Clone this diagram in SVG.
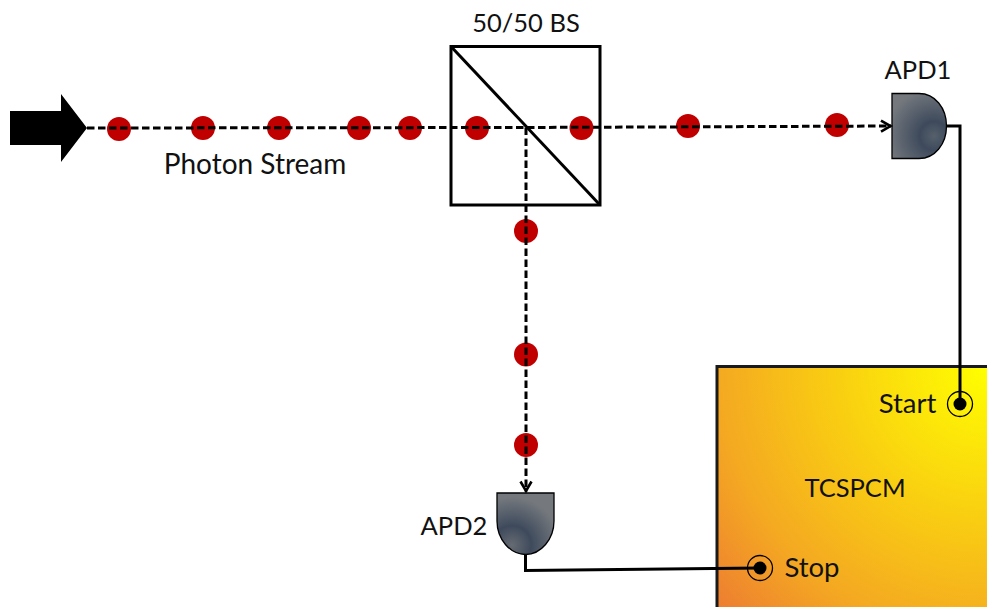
<svg xmlns="http://www.w3.org/2000/svg" width="987" height="607" viewBox="0 0 987 607">
<style>
text{font-family:"Lato","Open Sans","Liberation Sans",sans-serif;font-size:25.500px;fill:#111}
.big{font-size:27.500px}
.dot{fill:#c00000}
.dash{fill:none;stroke:#000;stroke-width:3;stroke-dasharray:7.500 3.500}
.wire{fill:none;stroke:#000;stroke-width:3}
.apd{stroke:#000;stroke-width:1.300}
.ring{fill:none;stroke:#000;stroke-width:1.300}
</style>
<defs>
<marker id="arr" markerUnits="userSpaceOnUse" markerWidth="16" markerHeight="16" refX="13" refY="7" orient="auto">
<path d="M3 1.500L12.500 7L3 12.500" fill="none" stroke="#000" stroke-width="2.600"/>
</marker>
<radialGradient id="gA" gradientUnits="userSpaceOnUse" cx="934" cy="136" r="48">
<stop offset="0" stop-color="#56606c"/><stop offset="0.3" stop-color="#3e4a5c"/><stop offset="1" stop-color="#75797e"/>
</radialGradient>
<radialGradient id="gB" gradientUnits="userSpaceOnUse" cx="512" cy="545" r="48">
<stop offset="0" stop-color="#666b72"/><stop offset="0.4" stop-color="#3e4a5c"/><stop offset="1" stop-color="#75797e"/>
</radialGradient>
<radialGradient id="gT" gradientUnits="userSpaceOnUse" cx="987" cy="366" r="362">
<stop offset="0" stop-color="#ffff00"/><stop offset="0.5" stop-color="#f8c515"/><stop offset="0.75" stop-color="#f4a822"/><stop offset="1" stop-color="#ed7d31"/>
</radialGradient>
</defs>
<g id="source"><polygon points="10,111 61,111 61,94 87,128 61,162 61,145 10,145" fill="#000"/></g>
<g id="photons">
<circle class="dot" cx="119" cy="129" r="12"/>
<circle class="dot" cx="203" cy="128" r="12"/>
<circle class="dot" cx="279" cy="128" r="12"/>
<circle class="dot" cx="359" cy="128" r="12"/>
<circle class="dot" cx="410" cy="128" r="12"/>
<circle class="dot" cx="477" cy="128" r="12"/>
<circle class="dot" cx="581.500" cy="128" r="12"/>
<circle class="dot" cx="688" cy="126" r="12"/>
<circle class="dot" cx="837" cy="125" r="12"/>
<circle class="dot" cx="526" cy="231" r="12"/>
<circle class="dot" cx="526" cy="354.500" r="12"/>
<circle class="dot" cx="526" cy="445" r="12"/>
</g>
<g id="tcspcm">
<rect x="717" y="366.500" width="272" height="242" fill="url(#gT)" stroke="#1a1a1a" stroke-width="3"/>
<text x="855" y="497" text-anchor="middle">TCSPCM</text>
<text class="big" x="907.500" y="413" text-anchor="middle">Start</text>
<text class="big" x="812" y="577" text-anchor="middle">Stop</text>
<circle class="ring" cx="960" cy="404" r="12.500"/>
<circle class="ring" cx="760" cy="568" r="12.500"/>
</g>
<g id="bs">
<rect x="451" y="46.500" width="149" height="158.500" fill="none" stroke="#000" stroke-width="3"/>
<path d="M451 46.500L600 205" class="wire"/>
<text x="526" y="32" text-anchor="middle">50/50 BS</text>
</g>
<g id="apd1">
<path class="apd" d="M892 93.500H919C935 93.500 946.500 108 946.500 126C946.500 144 935 158.500 919 158.500H892Z" fill="url(#gA)"/>
<text x="918" y="79" text-anchor="middle">APD1</text>
</g>
<g id="apd2">
<path class="apd" d="M497 493H554V521C554 539 541 554.500 525.500 554.500C510 554.500 497 539 497 521Z" fill="url(#gB)"/>
<text x="454" y="535" text-anchor="middle">APD2</text>
</g>
<text id="stream" style="font-size:28px" x="255" y="174" text-anchor="middle">Photon Stream</text>
<g id="connectors">
<path class="dash" d="M87 128L526 127.500L891 126" marker-end="url(#arr)"/>
<path class="dash" d="M526 127.500V491.500" marker-end="url(#arr)"/>
<path class="wire" d="M947 126H960V404"/>
<path class="wire" d="M525.500 555V570.500L760 568"/>
<circle cx="960" cy="404" r="6.500" fill="#000"/>
<circle cx="760" cy="568" r="6.500" fill="#000"/>
</g>
</svg>
